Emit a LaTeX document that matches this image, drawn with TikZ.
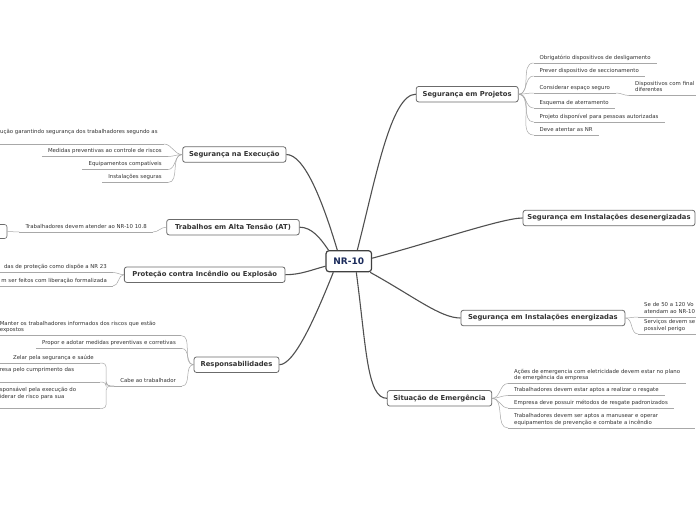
\documentclass[tikz,border=0pt]{standalone}
\usepackage{fontspec}
\setmainfont{DejaVu Sans}
\definecolor{boxgray}{HTML}{6B6B6B}
\definecolor{linedark}{HTML}{505050}
\definecolor{linelight}{HTML}{A8A8A8}
\definecolor{leaftext}{HTML}{333333}
\definecolor{maintext}{HTML}{333333}
\definecolor{navy}{HTML}{1B2B5B}
\definecolor{centreborder}{HTML}{404040}
\tikzset{
  mainbox/.style={draw=boxgray, line width=0.8pt, fill=white, rounded corners=2.5pt,
    font=\fontsize{6.8}{8}\selectfont\bfseries, text=maintext, minimum height=15.5pt, inner xsep=3pt},
  centre/.style={draw=centreborder, line width=1.2pt, fill=white, rounded corners=3pt,
    font=\fontsize{9}{10}\selectfont\bfseries, text=navy, minimum width=45.5pt, minimum height=21pt},
  mainc/.style={draw=linedark, line width=1.1pt},
  subc/.style={draw=linelight, line width=0.5pt},
  leaf/.style={font=\fontsize{5.4}{6.5}\selectfont, text=leaftext, inner xsep=6pt, inner ysep=1.8pt,
    align=left, execute at begin node=\strut, execute at end node=\strut},
  lleaf/.style={leaf, anchor=south east},
  rleaf/.style={leaf, anchor=south west},
  elbow/.style={subc, rounded corners=4pt},
}
\begin{document}
\begin{tikzpicture}[x=1pt,y=-1pt]
\fill[white] (0,0) rectangle (696,520);
\useasboundingbox (0,0) rectangle (696,520);

% main nodes
\node[centre] (nr) at (348.8,261.2) {NR-10};
\node[mainbox, minimum width=102pt] (proj) at (467.2,94.2) {Segurança em Projetos};
\node[mainbox, minimum width=172pt] (desen) at (609,218) {Segurança em Instalações desenergizadas};
\node[mainbox, minimum width=164pt] (ener) at (542.9,318) {Segurança em Instalações energizadas};
\node[mainbox, minimum width=104.5pt] (emer) at (439.5,398.3) {Situação de Emergência};
\node[mainbox, minimum width=103.3pt] (exec) at (234.3,154.5) {Segurança na Execução};
\node[mainbox, minimum width=132.6pt] (at) at (233,227.2) {Trabalhos em Alta Tensão (AT)};
\node[mainbox, minimum width=160.7pt] (prot) at (204.7,274.7) {Proteção contra Incêndio ou Explosão};
\node[mainbox, minimum width=85pt] (resp) at (236.5,364.7) {Responsabilidades};

% main connectors
\draw[mainc] ([xshift=8.5pt]nr.north) .. controls +(18,-70) and +(-25,0) .. (proj.west);
\draw[mainc] ([yshift=3pt]nr.east) .. controls +(60,-16) and +(-20,0) .. (desen.west);
\draw[mainc] ([xshift=-2pt]nr.south east) .. controls +(45,25) and +(-20,0) .. (ener.west);
\draw[mainc] ([xshift=7.5pt]nr.south) .. controls +(10,75) and +(-20,0) .. (emer.west);
\draw[mainc] (exec.east) .. controls +(18,0) and +(-15,-50) .. ([xshift=-11.5pt]nr.north);
\draw[mainc] (at.east) .. controls +(12,0) and +(-8,-12) .. ([xshift=3pt]nr.north west);
\draw[mainc] (prot.east) .. controls +(15,0) and +(-15,4) .. ([yshift=-5pt]nr.west);
\draw[mainc] (resp.east) .. controls +(15,0) and +(-18,45) .. ([xshift=-15.5pt]nr.south);

% Segurança em Projetos
\node[rleaf] (p1) at (533.5,63) {Obrigatório dispositivos de desligamento};
\node[rleaf] (p2) at (533.5,76) {Prever dispositivo de seccionamento};
\node[rleaf] (p3) at (533.5,93) {Considerar espaço seguro};
\node[rleaf, text width=62pt] (p3a) at (629,95.5) {Dispositivos com final\\diferentes};
\node[rleaf] (p4) at (533.5,108) {Esquema de aterramento};
\node[rleaf] (p5) at (533.5,122) {Projeto disponível para pessoas autorizadas};
\node[rleaf] (p6) at (533.5,135) {Deve atentar as NR};
\foreach \n in {p1,p2,p3,p4,p5,p6} \draw[subc] (proj.east) to[out=0,in=180] (\n.south west);
\draw[subc] (p3.south east) to[out=0,in=180] (p3a.south west);

% Segurança em Instalações energizadas
\node[rleaf, text width=60pt] (n1) at (638,317) {Se de 50 a 120 Vo\\atendam ao NR-10};
\node[rleaf, text width=60pt] (n2) at (638,334) {Serviços devem se\\possível perigo};
\foreach \n in {n1,n2} \draw[subc] (ener.east) to[out=0,in=180] (\n.south west);

% Situação de Emergência
\node[rleaf] (m1) at (508,383.5) {Ações de emergencia com eletricidade devem estar no plano\\de emergência da empresa};
\node[rleaf] (m2) at (508,395.5) {Trabalhadores devem estar aptos a realizar o resgate};
\node[rleaf] (m3) at (508,408) {Empresa deve possuir métodos de resgate padronizados};
\node[rleaf, text width=175pt] (m4) at (508,428) {Trabalhadores devem ser aptos a manusear e operar\\equipamentos de prevenção e combate a incêndio};
\foreach \n in {m1,m2,m3,m4} \draw[subc] (emer.east) to[out=0,in=180] (\n.south west);

% Segurança na Execução
\node[leaf, anchor=south west] (e0) at (-6,144) {ução garantindo segurança dos trabalhadores segundo as\\\mbox{}};
\node[lleaf] (e1) at (168,156.5) {Medidas preventivas ao controle de riscos};
\node[lleaf] (e2) at (168,169.5) {Equipamentos compatíveis};
\node[lleaf] (e3) at (168,182.5) {Instalações seguras};
\foreach \n in {e0,e1,e2,e3} \draw[subc] (exec.west) to[out=180,in=0] (\n.south east);

% Trabalhos em Alta Tensão
\node[lleaf] (a0) at (153,232) {Trabalhadores devem atender ao NR-10 10.8};
\node[draw=boxgray, line width=0.6pt, rounded corners=2.5pt, minimum width=44pt, minimum height=14pt] (ab) at (-15,231.5) {};
\draw[subc] (at.west) to[out=180,in=0] (a0.south east);
\draw[subc] (ab.east) -- (a0.south west);

% Proteção contra Incêndio ou Explosão
\node[lleaf] (r1) at (113,272.5) {das de proteção como dispõe a NR 23};
\node[lleaf] (r2) at (113,286) {m ser feitos com liberação formalizada};
\foreach \n in {r1,r2} \draw[subc] (prot.west) to[out=180,in=0] (\n.south east);

% Responsabilidades
\node[lleaf, text width=175pt] (s1) at (181,335.5) {Manter os trabalhadores informados dos riscos que estão\\expostos};
\node[lleaf] (s2) at (182,348.5) {Propor e adotar medidas preventivas e corretivas};
\node[lleaf] (s3) at (182,386) {Cabe ao trabalhador};
\foreach \n in {s1,s2,s3} \draw[subc] (resp.west) to[out=180,in=0] (\n.south east);

\node[lleaf, text width=94pt, align=right] (c1) at (100,363) {Zelar pela segurança e saúde};
\node[lleaf, text width=94pt] (c2) at (100,382) {resa pelo cumprimento das\\\mbox{}};
\node[lleaf, text width=94pt] (c3) at (100,408.5) {sponsável pela execução do\\iderar de risco para sua\\\mbox{}};
\foreach \n in {c1,c2,c3} \draw[elbow] (s3.south west) -- ++(-8,0) |- (\n.south east);

\foreach \n in {p1,p2,p3,p3a,p4,p5,p6,n1,n2,m1,m2,m3,m4,e0,e1,e2,e3,a0,r1,r2,s1,s2,s3,c1,c2,c3}
  \draw[subc] (\n.south west) -- (\n.south east);
\end{tikzpicture}
\end{document}
